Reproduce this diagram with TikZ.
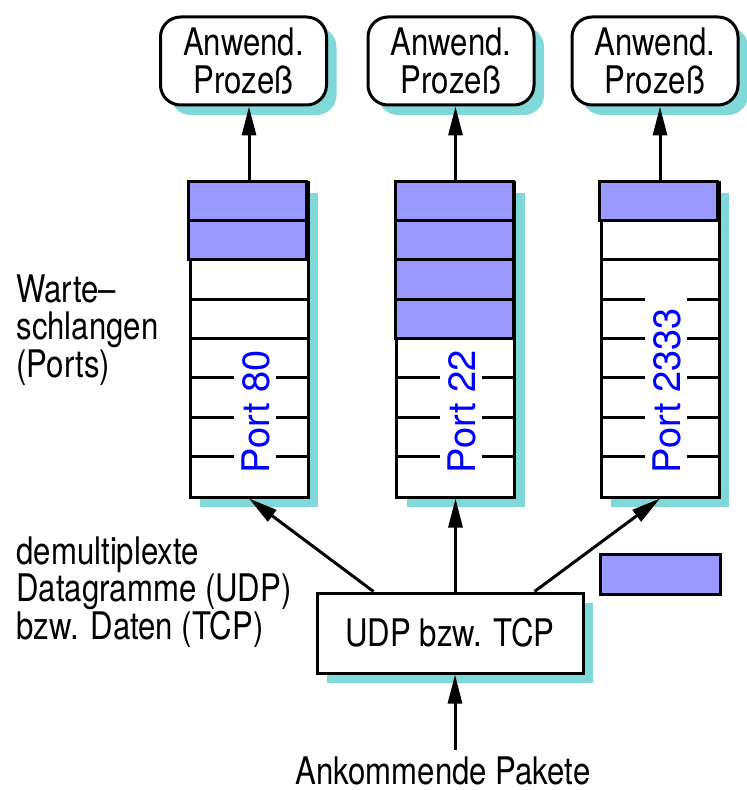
\documentclass[tikz,border=0pt]{standalone}
\usepackage{fontspec}
\setmainfont{TeX Gyre Heros}[FakeStretch=0.82]
\newfontfamily\portfont{TeX Gyre Heros}
\usetikzlibrary{arrows.meta,shadows,positioning}
\definecolor{paket}{HTML}{9999FF}
\definecolor{schatten}{HTML}{80D8D8}
\tikzset{every picture/.style={line width=1.5pt}}
\tikzset{schatten/.style={drop shadow={shadow xshift=5pt,shadow yshift=-5pt,fill=schatten,opacity=1}}}
\tikzstyle{prozess}=[draw,fill=white,schatten,rounded corners=10pt,minimum width=83pt,minimum height=44pt,align=center]
\tikzstyle{schlange}=[draw,fill=white,schatten,minimum width=59pt,minimum height=157pt,inner sep=0pt]
\tikzstyle{udpbox}=[draw,fill=white,schatten,minimum width=133pt,minimum height=40pt]
\tikzstyle{portlabel}=[rotate=90,anchor=base west,inner sep=0pt,text=blue,font=\portfont\fontsize{19pt}{19pt}\selectfont]
\tikzstyle{notiz}=[anchor=north west,align=left,inner sep=0pt]
% Warteschlange: Name, x, belegte Plaetze, erste unterbrochene Linie, Text
\newcommand{\warteschlange}[5]{%
\node[schlange] (#1) at (#2,340) {};
\foreach \i in {1,...,#3}
  \draw[fill=paket] ([yshift={-(\i-1)*19.625pt}]#1.north west) rectangle ++(59pt,-19.625pt);
\foreach \i in {1,...,7}{
  \ifnum\i<#4
    \draw ([yshift={-\i*19.625pt}]#1.north west) -- ++(59pt,0pt);
  \else
    \draw ([yshift={-\i*19.625pt}]#1.north west) -- ++(22.5pt,0pt);
    \draw ([yshift={-\i*19.625pt}]#1.north east) -- ++(-17pt,0pt);
  \fi}
\node[portlabel] at ([xshift=10pt,yshift=12pt]#1.south) {#5};
}

\begin{document}
\begin{tikzpicture}[x=0.5pt,y=-0.5pt,>={Triangle[length=14.5pt,width=7pt]},font=\fontsize{19pt}{18.75pt}\selectfont]
\useasboundingbox (0,0) rectangle (746,790);
\node[prozess] (P1) at (243.5,61) {Anwend.\\Prozeß};
\node[prozess] (P2) at (451,61) {Anwend.\\Prozeß};
\node[prozess] (P3) at (655,61) {Anwend.\\Prozeß};
\warteschlange{Q1}{249}{2}{5}{Port 80}
\warteschlange{Q2}{455.5}{4}{5}{Port 22}
\warteschlange{Q3}{660}{1}{3}{Port 2333}
\node[udpbox] (U) at (450,633) {UDP bzw. TCP};
\node[draw,fill=paket,minimum width=60pt,minimum height=20pt] (paket) at (660,574) {};
\node[notiz] (W) at (15,273) {Warte–\\schlangen\\(Ports)};
\node[notiz] (D) at (15,535) {demultiplexte\\Datagramme (UDP)\\bzw. Daten (TCP)};
\node (AP) at (443,771) {Ankommende Pakete};
\coordinate (ein) at (455,750);
\path[->]
(Q1.north) edge (Q1.north |- P1.south)
(Q2.north) edge (Q2.north |- P2.south)
(Q3.north) edge (Q3.north |- P3.south)
([xshift=29pt]U.north west) edge (Q1.south)
(Q2.south |- U.north) edge (Q2.south)
([xshift=-25pt]U.north east) edge (Q3.south)
(ein) edge (ein |- U.south);
\end{tikzpicture}
\end{document}
